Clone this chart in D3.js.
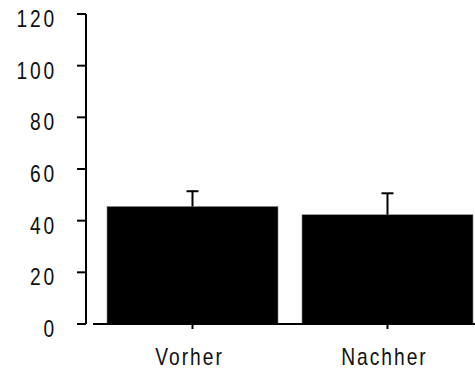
<!DOCTYPE html>
<html>
<head>
<meta charset="utf-8">
<script src="https://cdn.jsdelivr.net/npm/d3@7"></script>
<style>
  body { margin: 0; background: #fff; }
  text { font-family: "Liberation Sans", Arial, sans-serif; font-size: 24px; fill: #111; }
</style>
</head>
<body>
<div id="chart"></div>
<script>
// datos
const categories = ['Vorher', 'Nachher'];
const values = [45.5, 42.3];
const errors = [5.9, 8.3];
const yTicks = [0, 20, 40, 60, 80, 100, 120];

const width = 475, height = 371;
const sx = 0.8; // estrechar las letras como en el original

const svg = d3.select('#chart').append('svg')
    .attr('width', width)
    .attr('height', height);

let y = d3.scaleLinear().domain([0, 120]).range([324, 14]);
let x = d3.scaleBand().domain(categories)
    .range([95.3, 484.7])
    .paddingInner(0.123)
    .paddingOuter(0.06);

// eje y
let yAxis = svg.append('g');
yAxis.append('line')
    .attr('x1', 86).attr('x2', 86)
    .attr('y1', y(120)).attr('y2', y(0))
    .attr('stroke', '#000').attr('stroke-width', 2);
yAxis.selectAll('.tick')
    .data(yTicks)
    .join('line')
    .attr('x1', 77).attr('x2', 86)
    .attr('y1', d => y(d)).attr('y2', d => y(d))
    .attr('stroke', '#000').attr('stroke-width', 2);
yAxis.selectAll('g.lbl')
    .data(yTicks)
    .join('g')
    .attr('class', 'lbl')
    .attr('transform', d => 'translate(57,' + (y(d) + 13) + ') scale(' + sx + ',1)')
    .append('text')
    .attr('text-anchor', 'end')
    .attr('letter-spacing', 3.5)
    .text(d => d);

// barras
svg.selectAll('.bar')
    .data(values)
    .join('rect')
    .attr('class', 'bar')
    .attr('x', (d, i) => x(categories[i]))
    .attr('y', d => y(d))
    .attr('width', x.bandwidth())
    .attr('height', d => y(0) - y(d))
    .attr('fill', '#000')
    .attr('stroke', '#888')
    .attr('stroke-width', 0.6);

// barras de error
let err = svg.selectAll('.err')
    .data(values)
    .join('g')
    .attr('class', 'err');
err.append('line')
    .attr('x1', (d, i) => x(categories[i]) + x.bandwidth() / 2)
    .attr('x2', (d, i) => x(categories[i]) + x.bandwidth() / 2)
    .attr('y1', d => y(d))
    .attr('y2', (d, i) => y(d + errors[i]))
    .attr('stroke', '#000').attr('stroke-width', 2);
err.append('line')
    .attr('x1', (d, i) => x(categories[i]) + x.bandwidth() / 2 - 6)
    .attr('x2', (d, i) => x(categories[i]) + x.bandwidth() / 2 + 6)
    .attr('y1', (d, i) => y(d + errors[i]))
    .attr('y2', (d, i) => y(d + errors[i]))
    .attr('stroke', '#000').attr('stroke-width', 2);

// eje x
let xAxis = svg.append('g');
xAxis.append('line')
    .attr('x1', 93).attr('x2', width)
    .attr('y1', y(0)).attr('y2', y(0))
    .attr('stroke', '#000').attr('stroke-width', 2);
xAxis.selectAll('.tick')
    .data(categories)
    .join('line')
    .attr('x1', d => x(d) + x.bandwidth() / 2)
    .attr('x2', d => x(d) + x.bandwidth() / 2)
    .attr('y1', y(0)).attr('y2', y(0) + 5)
    .attr('stroke', '#000').attr('stroke-width', 2);
xAxis.selectAll('g.cat')
    .data(categories)
    .join('g')
    .attr('class', 'cat')
    .attr('transform', d => 'translate(' + (x(d) + x.bandwidth() / 2 - 3) + ',365) scale(' + sx + ',1)')
    .append('text')
    .attr('text-anchor', 'middle')
    .attr('letter-spacing', 2.5)
    .text(d => d);
</script>
</body>
</html>
